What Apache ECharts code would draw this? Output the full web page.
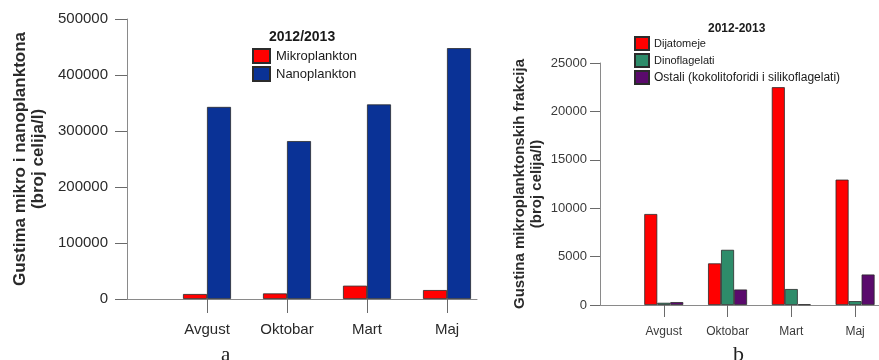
<!DOCTYPE html>
<html>
<head>
<meta charset="utf-8">
<title>Gustina planktona 2012/2013</title>
<script src="https://cdn.jsdelivr.net/npm/echarts@6/dist/echarts.min.js"></script>
<style>
  html, body { margin: 0; padding: 0; background: #ffffff; }
  #chart { width: 879px; height: 360px; }
</style>
</head>
<body>
<div id="chart"></div>
<script>
// Sampling months (shared by both panels)
const months = ['Avgust', 'Oktobar', 'Mart', 'Maj'];

// Panel a: micro- vs nanoplankton density (cells/l)
const mikroplankton = [8900, 10000, 23800, 16000];
const nanoplankton = [343000, 282000, 347500, 448000];
const ticksA = [0, 100000, 200000, 300000, 400000, 500000];

// Panel b: microplankton fractions (cells/l)
const dijatomeje = [9400, 4300, 22500, 12950];
const dinoflagelati = [230, 5700, 1650, 400];
const ostali = [300, 1600, 70, 3150];
const ticksB = [0, 5000, 10000, 15000, 20000, 25000];

const FONT = '"Liberation Sans", Arial, sans-serif';
const SERIF = '"Liberation Serif", "DejaVu Serif", serif';
const idx = months.map((_, i) => i);
const pairs = arr => arr.map((v, i) => [i, v]);

function monthAxis(grid, fontSize, tickLen, margin, color) {
  return {
    type: 'value', gridIndex: grid, min: -1, max: 3.375,
    splitLine: { show: false },
    axisLine: { show: true, onZero: false, lineStyle: { color: '#8a8a8a', width: 1 } },
    axisTick: { show: true, customValues: idx, length: tickLen, lineStyle: { color: '#6a6a6a' } },
    axisLabel: {
      customValues: idx, formatter: v => months[Math.round(v)] || '',
      fontFamily: FONT, fontSize: fontSize, color: color, margin: margin
    }
  };
}

function valueAxis(grid, ticks, fontSize, tickLen, margin, color, name, nameSize, nameGap, lineH) {
  return {
    type: 'value', gridIndex: grid, min: ticks[0], max: ticks[ticks.length - 1],
    interval: ticks[1] - ticks[0],
    splitLine: { show: false },
    axisLine: { show: true, onZero: false, lineStyle: { color: '#8a8a8a', width: 1 } },
    axisTick: { show: true, inside: false, length: tickLen, lineStyle: { color: '#6a6a6a' } },
    axisLabel: { fontFamily: FONT, fontSize: fontSize, color: color, margin: margin,
      formatter: v => String(v) },
    name: name, nameLocation: 'middle', nameGap: nameGap,
    nameTextStyle: {
      fontFamily: FONT, fontSize: nameSize, fontWeight: 'bold', color: '#2a2a2a',
      lineHeight: lineH, align: 'center'
    }
  };
}

const border = { borderColor: '#2b2b2b', borderWidth: 0.8 };

const option = {
  animation: false,
  backgroundColor: '#ffffff',
  textStyle: { fontFamily: FONT },
  title: [
    { text: '2012/2013', left: 264, top: 25,
      textStyle: { fontFamily: FONT, fontSize: 14, fontWeight: 'bold', color: '#1a1a1a' } },
    { text: '2012-2013', left: 703, top: 18,
      textStyle: { fontFamily: FONT, fontSize: 12, fontWeight: 'bold', color: '#1a1a1a' } },
    { text: 'a', left: 216, top: 340,
      textStyle: { fontFamily: SERIF, fontSize: 21, fontWeight: 'normal', color: '#222' } },
    { text: 'b', left: 728, top: 339,
      textStyle: { fontFamily: SERIF, fontSize: 22, fontWeight: 'normal', color: '#222' } }
  ],
  legend: [
    { orient: 'vertical', left: 247, top: 43, icon: 'rect', itemWidth: 17, itemHeight: 14, itemGap: 2,
      data: ['Mikroplankton', 'Nanoplankton'],
      textStyle: { fontFamily: FONT, fontSize: 13, color: '#1a1a1a', padding: [0, 0, 0, 1] } },
    { orient: 'vertical', left: 629, top: 31, icon: 'rect', itemWidth: 14, itemHeight: 13, itemGap: 2,
      data: [
        { name: 'Dijatomeje', textStyle: { fontSize: 11 } },
        { name: 'Dinoflagelati', textStyle: { fontSize: 11 } },
        { name: 'Ostali (kokolitoforidi i silikoflagelati)', textStyle: { fontSize: 12 } }
      ],
      textStyle: { fontFamily: FONT, fontSize: 12, color: '#1a1a1a' } }
  ],
  grid: [
    { left: 127, top: 19, width: 350, height: 280, containLabel: false },
    { left: 600, top: 63, width: 284, height: 242, containLabel: false }
  ],
  xAxis: [
    monthAxis(0, 15, 14, 23, '#2a2a2a'),
    monthAxis(1, 12, 12, 21, '#3a3a3a')
  ],
  yAxis: [
    valueAxis(0, ticksA, 15, 12, 19, '#2a2a2a',
      'Gustima mikro i nanoplanktona\n(broj celija/l)', 17, 80, 18),
    valueAxis(1, ticksB, 13, 10, 13, '#3a3a3a',
      'Gustina mikroplanktonskih frakcija\n(broj celija/l)', 15, 55, 17)
  ],
  series: [
    { name: 'Mikroplankton', type: 'bar', xAxisIndex: 0, yAxisIndex: 0,
      barWidth: 24, barGap: '0%', data: pairs(mikroplankton),
      itemStyle: Object.assign({ color: '#ff0000' }, border) },
    { name: 'Nanoplankton', type: 'bar', xAxisIndex: 0, yAxisIndex: 0,
      barWidth: 24, barGap: '0%', data: pairs(nanoplankton),
      itemStyle: Object.assign({ color: '#0a3296' }, border) },
    { name: 'Dijatomeje', type: 'bar', xAxisIndex: 1, yAxisIndex: 1,
      barWidth: 13, barGap: '0%', data: pairs(dijatomeje),
      itemStyle: Object.assign({ color: '#ff0000' }, border) },
    { name: 'Dinoflagelati', type: 'bar', xAxisIndex: 1, yAxisIndex: 1,
      barWidth: 13, barGap: '0%', data: pairs(dinoflagelati),
      itemStyle: Object.assign({ color: '#2e8c6a' }, border) },
    { name: 'Ostali (kokolitoforidi i silikoflagelati)', type: 'bar', xAxisIndex: 1, yAxisIndex: 1,
      barWidth: 13, barGap: '0%', data: pairs(ostali),
      itemStyle: Object.assign({ color: '#5a0a6c' }, border) }
  ]
};

const chart = echarts.init(document.getElementById('chart'), null, { renderer: 'canvas' });
chart.setOption(option);
</script>
</body>
</html>
